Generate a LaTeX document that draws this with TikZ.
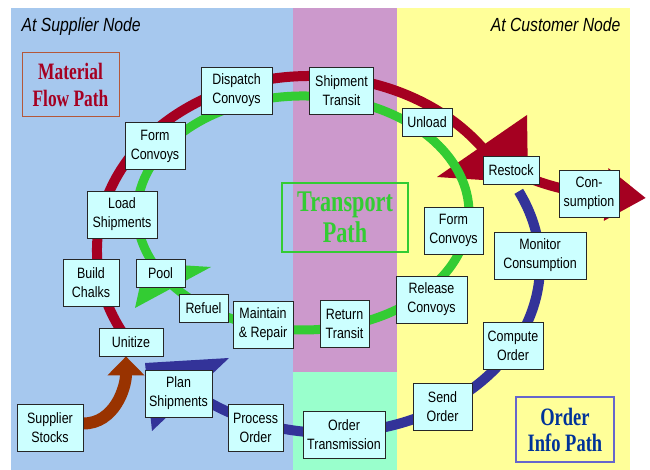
\documentclass[tikz,border=0pt]{standalone}
\usepackage{fontspec}
\setmainfont{Liberation Sans}[FakeStretch=0.83]
\newfontfamily\pathfont{Liberation Serif}[FakeStretch=0.74]
\usepackage{xcolor}
\usetikzlibrary{arrows.meta}

\definecolor{supbg}{HTML}{A6C8EE}
\definecolor{trbg}{HTML}{CC99CC}
\definecolor{ordbg}{HTML}{99FFCC}
\definecolor{cusbg}{HTML}{FFFF99}
\definecolor{boxfill}{HTML}{CCFFFF}
\definecolor{matred}{HTML}{A50021}
\definecolor{matframe}{HTML}{B4583A}
\definecolor{trgreen}{HTML}{33CC33}
\definecolor{infoblue}{HTML}{333399}
\definecolor{ordframe}{HTML}{6666CC}
\definecolor{ordtext}{HTML}{003399}
\definecolor{stockbrown}{HTML}{993300}

\pgfdeclarelayer{back}
\pgfdeclarelayer{flow}
\pgfsetlayers{back,flow,main}

\begin{document}
\begin{tikzpicture}[
  x=1pt, y=1pt,
  font=\fontsize{15}{19}\selectfont,        % box text
  box/.style    = {rectangle,
                   draw=black!85,
                   line width=0.8pt,
                   fill=boxfill,
                   align=center,
                   inner sep=2pt,
                   minimum height=28pt},
  tall/.style   = {box, minimum height=47pt},
  title/.style  = {rectangle, align=center, inner sep=3pt},
  header/.style = {font=\fontsize{19}{23}\selectfont\itshape},
  band/.style   = {line width=#1}
]
\useasboundingbox (0,0) rectangle (650,470);

% headers and path titles
\node[header, anchor=base west] (suphd) at (18,438)  {At Supplier Node};
\node[header, anchor=base east] (cushd) at (624,438) {At Customer Node};

\node[title, draw=matframe, line width=1pt, text=matred,
      minimum width=97pt, minimum height=64pt,
      font=\pathfont\bfseries\fontsize{23.5}{27}\selectfont] (matpath) at (70.5,385) {Material\\Flow Path};
\node[title, draw=trgreen, line width=2pt, text=trgreen,
      minimum width=126pt, minimum height=69pt,
      font=\pathfont\bfseries\fontsize{30}{31}\selectfont] (trpath) at (345,252.5) {Transport\\Path};
\node[title, draw=ordframe, line width=1.2pt, text=ordtext,
      minimum width=98pt, minimum height=65pt,
      font=\pathfont\bfseries\fontsize{25}{26}\selectfont] (ordpath) at (565,40.5) {Order\\Info Path};

% supplier side
\node[tall, minimum width=71pt] (disp)    at (236.5,379.5) {Dispatch\\Convoys};
\node[tall, minimum width=60pt] (formL)   at (155,324)     {Form\\Convoys};
\node[tall, minimum width=70pt] (load)    at (122,255.5)   {Load\\Shipments};
\node[tall, minimum width=56pt] (build)   at (91,187)      {Build\\Chalks};
\node[box,  minimum width=49pt] (pool)    at (160.5,197)   {Pool};
\node[box,  minimum width=64pt] (unit)    at (131,128)     {Unitize};
\node[box,  minimum width=49pt] (refuel)  at (203.5,162)   {Refuel};
\node[tall, minimum width=60pt] (maint)   at (263,145.5)   {Maintain\\\& Repair};
\node[tall, minimum width=67pt] (plan)    at (178.5,76.5)  {Plan\\Shipments};
\node[tall, minimum width=55pt] (process) at (255.5,42)    {Process\\Order};
\node[tall, minimum width=66pt] (supp)    at (50,42.5)     {Supplier\\Stocks};

% transport
\node[tall, minimum width=64pt] (ship)    at (341.5,379.5) {Shipment\\Transit};
\node[tall, minimum width=49pt] (ret)     at (344.5,146)   {Return\\Transit};
\node[tall, minimum width=82pt] (trans)   at (344,35.5)    {Order\\Transmission};

% customer side
\node[box,  minimum width=50pt] (unload)  at (427,348)     {Unload};
\node[box,  minimum width=56pt] (restock) at (511,299.5)   {Restock};
\node[tall, minimum width=60pt] (cons)    at (589,276.5)   {Con-\\sumption};
\node[tall, minimum width=59pt] (formR)   at (453.5,239.5) {Form\\Convoys};
\node[tall, minimum width=92pt] (monitor) at (540,214.5)   {Monitor\\Consumption};
\node[tall, minimum width=71pt] (rel)     at (431.5,170.5) {Release\\Convoys};
\node[tall, minimum width=60pt] (compute) at (513,124.5)   {Compute\\Order};
\node[tall, minimum width=59pt] (send)    at (442.5,63.5)  {Send\\Order};

\coordinate (usehead) at (646,272);

\begin{pgfonlayer}{flow}
  % material flow
  \draw[band=10pt, matred] (310,220) ++(210:213 and 174)
        arc[start angle=210, end angle=33, x radius=213, y radius=174];
  \fill[matred] (527,355) -- (437,293) -- (528,287) -- cycle;
  \draw[band=10pt, matred, -{Triangle[width=50pt,length=40pt]}]
        (restock.center) to[out=-25,in=175] (usehead);
  % transport loop
  \draw[band=9pt, trgreen] (303,257) ++(205:166 and 117)
        arc[start angle=205, end angle=-146, x radius=166, y radius=117];
  \fill[trgreen] (211,203) -- (135,162) -- (145,207) -- cycle;
  % order info
  \draw[band=10pt, infoblue] (330,205) ++(26:210 and 168)
        arc[start angle=26, end angle=-135, x radius=210, y radius=168];
  \fill[infoblue] (229,112) -- (152,39) -- (145,107) -- cycle;
  % stocks into the loop
  \draw[band=12pt, stockbrown, -{Triangle[width=36pt,length=19pt]}]
        ([yshift=4pt]supp.east) to[out=0,in=-90] ([xshift=-5pt]unit.south);
\end{pgfonlayer}

\begin{pgfonlayer}{back}
  \fill[supbg] (11,0)  rectangle (293,462);
  \fill[trbg]  (293,98) rectangle (397,462);
  \fill[ordbg] (293,0) rectangle (397,98);
  \fill[cusbg] (397,0) rectangle (630,462);
\end{pgfonlayer}

\end{tikzpicture}
\end{document}
